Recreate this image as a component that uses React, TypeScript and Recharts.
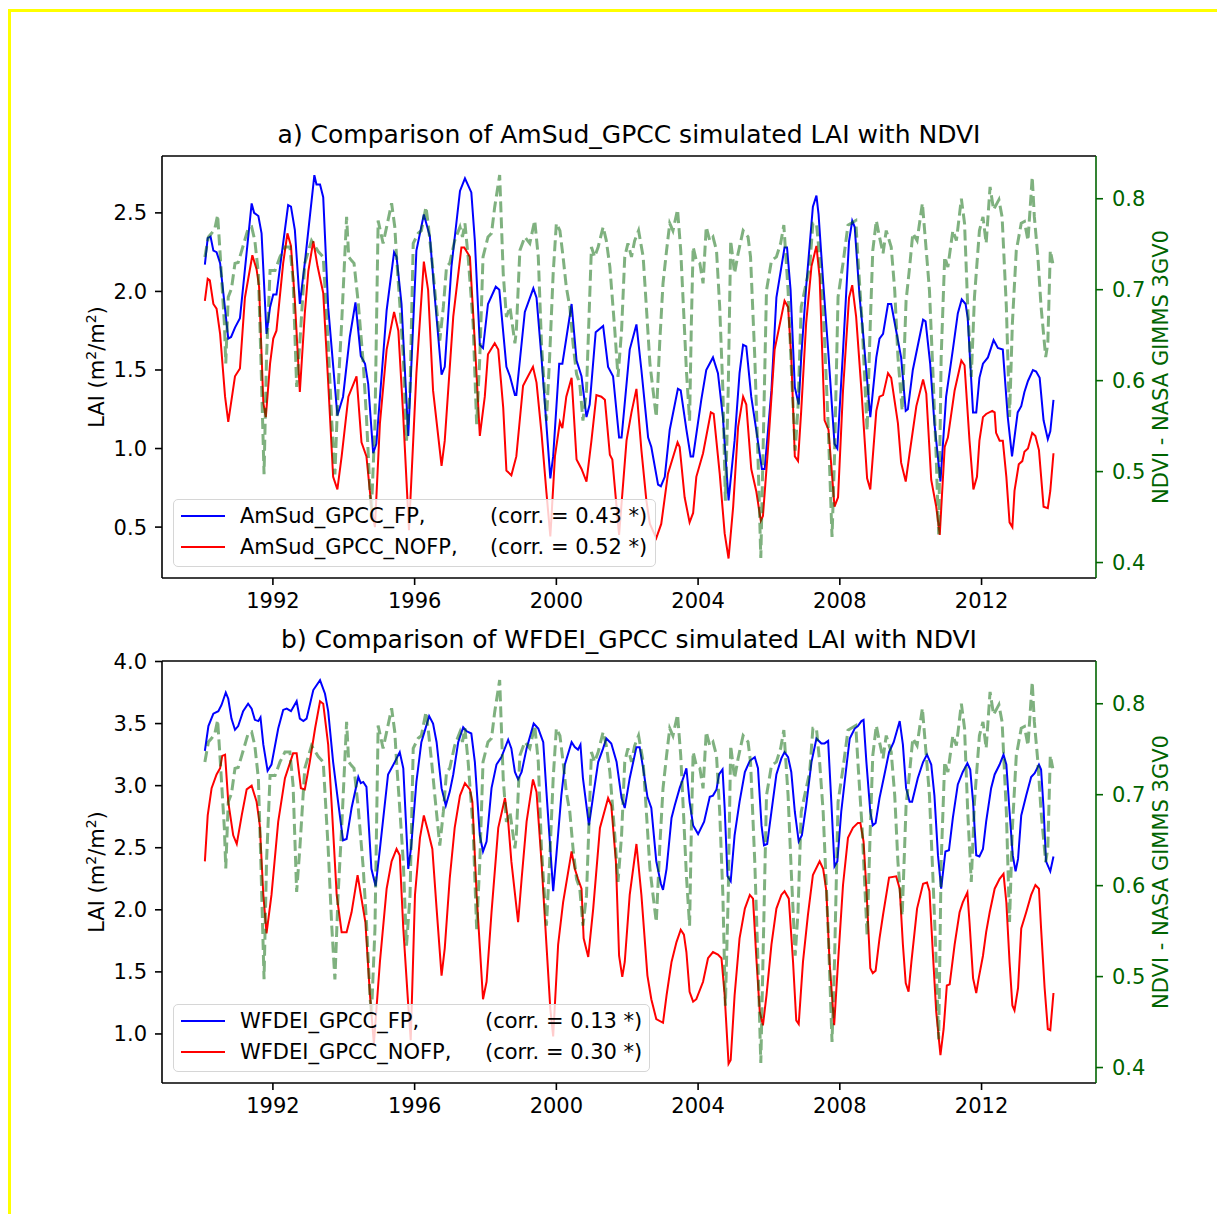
import React from "react";
import { LineChart, Line, XAxis, YAxis, ReferenceLine } from "recharts";

type Pt = [number, number];

const yearTicks = [1992, 1996, 2000, 2004, 2008, 2012];
const laiTicksA = [0.5, 1.0, 1.5, 2.0, 2.5];
const laiTicksB = [1.0, 1.5, 2.0, 2.5, 3.0, 3.5, 4.0];
const ndviTicks = [0.4, 0.5, 0.6, 0.7, 0.8];

// [decimal year, LAI]
const amsudFP: Pt[] = [
  [1990.08, 2.17], [1990.16, 2.34], [1990.24, 2.35], [1990.32, 2.26], [1990.41, 2.25], [1990.51, 2.18],
  [1990.74, 1.7], [1990.82, 1.71], [1990.93, 1.77], [1991.07, 1.83], [1991.4, 2.56], [1991.47, 2.5],
  [1991.59, 2.48], [1991.68, 2.37], [1991.82, 1.73], [1991.92, 1.9], [1992.01, 1.98], [1992.1, 1.98],
  [1992.43, 2.55], [1992.51, 2.54], [1992.62, 2.39], [1992.76, 1.92], [1992.9, 2.18], [1993.17, 2.74],
  [1993.23, 2.68], [1993.33, 2.68], [1993.42, 2.6], [1993.56, 1.9], [1993.82, 1.21], [1993.98, 1.33],
  [1994.17, 1.71], [1994.33, 1.93], [1994.48, 1.59], [1994.6, 1.54], [1994.69, 1.41], [1994.83, 0.97],
  [1994.92, 1.03], [1995.21, 1.88], [1995.42, 2.25], [1995.49, 2.22], [1995.63, 1.92], [1995.82, 1.08],
  [1996.05, 2.26], [1996.26, 2.49], [1996.43, 2.35], [1996.57, 1.96], [1996.76, 1.47], [1996.85, 1.52],
  [1997.04, 2.16], [1997.28, 2.64], [1997.42, 2.72], [1997.6, 2.63], [1997.7, 2.32], [1997.84, 1.66],
  [1997.93, 1.64], [1998.07, 1.92], [1998.29, 2.03], [1998.39, 2.01], [1998.59, 1.52], [1998.69, 1.46],
  [1998.83, 1.34], [1998.87, 1.34], [1999.11, 1.87], [1999.35, 2.02], [1999.44, 1.96], [1999.58, 1.58],
  [1999.83, 0.81], [1999.91, 0.95], [2000.08, 1.54], [2000.17, 1.54], [2000.43, 1.92], [2000.57, 1.56],
  [2000.71, 1.46], [2000.85, 1.2], [2000.94, 1.28], [2001.11, 1.74], [2001.32, 1.78], [2001.46, 1.52],
  [2001.6, 1.46], [2001.77, 1.07], [2001.84, 1.07], [2002.07, 1.63], [2002.26, 1.79], [2002.4, 1.5],
  [2002.59, 1.07], [2002.68, 1.01], [2002.87, 0.77], [2002.95, 0.76], [2003.06, 0.82], [2003.2, 1.12],
  [2003.43, 1.38], [2003.51, 1.37], [2003.67, 1.12], [2003.79, 0.95], [2003.86, 0.95], [2004.09, 1.31],
  [2004.23, 1.5], [2004.42, 1.58], [2004.56, 1.48], [2004.7, 1.2], [2004.86, 0.67], [2005.03, 1.05],
  [2005.17, 1.48], [2005.27, 1.66], [2005.36, 1.65], [2005.5, 1.33], [2005.64, 1.12], [2005.8, 0.87],
  [2005.88, 0.87], [2006.07, 1.37], [2006.21, 1.96], [2006.44, 2.28], [2006.51, 2.28], [2006.61, 2.01],
  [2006.73, 1.39], [2006.84, 1.28], [2006.91, 1.58], [2007.05, 2.03], [2007.24, 2.54], [2007.34, 2.61],
  [2007.4, 2.49], [2007.53, 2.06], [2007.67, 1.63], [2007.85, 1.03], [2007.93, 1.0], [2008.09, 1.62],
  [2008.26, 2.32], [2008.35, 2.45], [2008.42, 2.41], [2008.56, 1.96], [2008.65, 1.75], [2008.86, 1.2],
  [2009.03, 1.58], [2009.12, 1.7], [2009.22, 1.73], [2009.36, 1.92], [2009.45, 1.92], [2009.59, 1.75],
  [2009.73, 1.58], [2009.86, 1.24], [2009.92, 1.25], [2010.06, 1.5], [2010.35, 1.82], [2010.42, 1.81],
  [2010.55, 1.54], [2010.67, 1.16], [2010.84, 0.79], [2011.0, 1.33], [2011.19, 1.63], [2011.33, 1.86],
  [2011.44, 1.95], [2011.55, 1.92], [2011.61, 1.83], [2011.76, 1.23], [2011.85, 1.23], [2011.94, 1.45],
  [2012.04, 1.54], [2012.18, 1.58], [2012.34, 1.69], [2012.46, 1.64], [2012.6, 1.63], [2012.74, 1.2],
  [2012.86, 0.95], [2013.02, 1.23], [2013.12, 1.27], [2013.21, 1.36], [2013.31, 1.43], [2013.45, 1.5],
  [2013.54, 1.49], [2013.64, 1.45], [2013.75, 1.18], [2013.87, 1.06], [2013.94, 1.11], [2014.03, 1.31],
];

const amsudNOFP: Pt[] = [
  [1990.08, 1.94], [1990.16, 2.08], [1990.22, 2.07], [1990.32, 1.92], [1990.41, 1.89], [1990.51, 1.73],
  [1990.65, 1.33], [1990.74, 1.17], [1990.93, 1.46], [1991.07, 1.51], [1991.21, 1.96], [1991.42, 2.23],
  [1991.54, 2.14], [1991.61, 2.03], [1991.73, 1.29], [1991.8, 1.2], [1991.92, 1.54], [1992.01, 1.7],
  [1992.1, 1.75], [1992.29, 2.18], [1992.41, 2.37], [1992.51, 2.29], [1992.62, 1.94], [1992.76, 1.36],
  [1992.9, 1.86], [1993.0, 2.13], [1993.14, 2.32], [1993.26, 2.16], [1993.42, 1.99], [1993.56, 1.42],
  [1993.7, 0.82], [1993.82, 0.74], [1993.94, 0.95], [1994.13, 1.33], [1994.36, 1.46], [1994.5, 1.04],
  [1994.64, 0.95], [1994.78, 0.63], [1994.88, 0.5], [1995.02, 1.16], [1995.21, 1.63], [1995.42, 1.87],
  [1995.54, 1.75], [1995.68, 1.2], [1995.84, 0.48], [1996.05, 1.48], [1996.26, 2.19], [1996.38, 2.01],
  [1996.52, 1.37], [1996.76, 0.89], [1996.85, 1.05], [1997.09, 1.84], [1997.32, 2.28], [1997.4, 2.28],
  [1997.56, 2.22], [1997.7, 1.67], [1997.84, 1.08], [1997.98, 1.33], [1998.07, 1.6], [1998.26, 1.67],
  [1998.36, 1.63], [1998.5, 1.26], [1998.59, 0.86], [1998.73, 0.83], [1998.87, 0.95], [1999.06, 1.4],
  [1999.2, 1.46], [1999.34, 1.52], [1999.44, 1.42], [1999.58, 1.1], [1999.72, 0.72], [1999.83, 0.44],
  [1999.96, 0.95], [2000.1, 1.17], [2000.17, 1.13], [2000.28, 1.33], [2000.43, 1.45], [2000.57, 0.93],
  [2000.71, 0.87], [2000.85, 0.79], [2000.99, 1.05], [2001.13, 1.34], [2001.27, 1.33], [2001.37, 1.31],
  [2001.51, 0.96], [2001.58, 0.93], [2001.77, 0.45], [2001.98, 1.05], [2002.12, 1.23], [2002.26, 1.38],
  [2002.4, 0.99], [2002.54, 0.67], [2002.64, 0.52], [2002.82, 0.43], [2002.96, 0.52], [2003.15, 0.84],
  [2003.42, 1.04], [2003.48, 1.01], [2003.62, 0.69], [2003.76, 0.53], [2003.86, 0.59], [2003.95, 0.82],
  [2004.14, 0.97], [2004.36, 1.23], [2004.44, 1.22], [2004.61, 0.84], [2004.75, 0.46], [2004.86, 0.3],
  [2004.99, 0.63], [2005.13, 1.14], [2005.27, 1.33], [2005.36, 1.28], [2005.5, 0.87], [2005.64, 0.73],
  [2005.77, 0.54], [2005.83, 0.57], [2005.97, 0.99], [2006.16, 1.63], [2006.44, 1.94], [2006.54, 1.9],
  [2006.63, 1.58], [2006.73, 0.95], [2006.82, 0.92], [2006.91, 1.24], [2007.05, 1.8], [2007.2, 2.16],
  [2007.34, 2.29], [2007.43, 2.09], [2007.57, 1.18], [2007.68, 1.12], [2007.85, 0.63], [2007.95, 0.69],
  [2008.09, 1.37], [2008.26, 1.96], [2008.35, 2.04], [2008.46, 1.84], [2008.61, 1.37], [2008.77, 0.81],
  [2008.86, 0.74], [2009.03, 1.24], [2009.12, 1.33], [2009.22, 1.34], [2009.36, 1.48], [2009.45, 1.45],
  [2009.64, 1.16], [2009.73, 0.91], [2009.86, 0.79], [2009.97, 0.97], [2010.16, 1.27], [2010.35, 1.44],
  [2010.44, 1.35], [2010.58, 0.8], [2010.72, 0.63], [2010.82, 0.45], [2010.96, 1.01], [2011.05, 1.07],
  [2011.24, 1.37], [2011.43, 1.56], [2011.52, 1.53], [2011.66, 1.05], [2011.77, 0.74], [2011.87, 0.82],
  [2011.94, 1.05], [2012.04, 1.2], [2012.13, 1.22], [2012.3, 1.24], [2012.37, 1.23], [2012.41, 1.1],
  [2012.51, 1.05], [2012.6, 1.05], [2012.7, 0.82], [2012.79, 0.53], [2012.87, 0.5], [2012.93, 0.73],
  [2013.05, 0.9], [2013.15, 0.92], [2013.21, 0.98], [2013.31, 1.0], [2013.43, 1.1], [2013.52, 1.08],
  [2013.62, 0.99], [2013.75, 0.63], [2013.87, 0.62], [2013.94, 0.73], [2014.03, 0.97],
];

const wfdeiFP: Pt[] = [
  [1990.08, 3.28], [1990.18, 3.48], [1990.32, 3.58], [1990.46, 3.6], [1990.55, 3.65], [1990.67, 3.75],
  [1990.74, 3.7], [1990.83, 3.54], [1990.93, 3.45], [1991.02, 3.48], [1991.16, 3.6], [1991.3, 3.66],
  [1991.4, 3.62], [1991.49, 3.53], [1991.59, 3.52], [1991.65, 3.55], [1991.73, 3.33], [1991.85, 3.12],
  [1991.96, 3.17], [1992.15, 3.46], [1992.29, 3.61], [1992.39, 3.62], [1992.51, 3.6], [1992.67, 3.68],
  [1992.76, 3.54], [1992.86, 3.52], [1992.95, 3.54], [1993.14, 3.77], [1993.33, 3.85], [1993.47, 3.74],
  [1993.56, 3.6], [1993.7, 3.19], [1993.84, 2.87], [1993.98, 2.56], [1994.08, 2.57], [1994.22, 2.82],
  [1994.41, 3.07], [1994.48, 3.02], [1994.55, 3.03], [1994.64, 2.99], [1994.78, 2.33], [1994.9, 2.19],
  [1995.02, 2.49], [1995.25, 3.09], [1995.44, 3.19], [1995.58, 3.27], [1995.68, 3.14], [1995.82, 2.33],
  [1995.9, 2.5], [1996.05, 3.03], [1996.19, 3.35], [1996.41, 3.56], [1996.52, 3.5], [1996.62, 3.35],
  [1996.76, 2.98], [1996.88, 2.84], [1996.99, 2.95], [1997.09, 3.09], [1997.23, 3.35], [1997.37, 3.47],
  [1997.46, 3.44], [1997.6, 3.42], [1997.7, 3.19], [1997.84, 2.6], [1997.93, 2.47], [1998.03, 2.55],
  [1998.17, 2.98], [1998.31, 3.17], [1998.45, 3.23], [1998.64, 3.37], [1998.73, 3.3], [1998.83, 3.11],
  [1998.92, 3.05], [1999.02, 3.11], [1999.16, 3.3], [1999.36, 3.5], [1999.49, 3.46], [1999.63, 3.35],
  [1999.72, 2.95], [1999.91, 2.15], [2000.0, 2.44], [2000.14, 2.92], [2000.24, 3.17], [2000.43, 3.35],
  [2000.52, 3.31], [2000.61, 3.29], [2000.68, 3.33], [2000.75, 3.06], [2000.92, 2.68], [2001.04, 2.92],
  [2001.18, 3.19], [2001.32, 3.3], [2001.41, 3.38], [2001.55, 3.34], [2001.7, 3.19], [2001.84, 2.9],
  [2001.93, 2.82], [2002.07, 3.06], [2002.26, 3.31], [2002.35, 3.31], [2002.45, 3.14], [2002.57, 2.91],
  [2002.68, 2.82], [2002.82, 2.39], [2002.95, 2.21], [2003.01, 2.16], [2003.11, 2.33], [2003.25, 2.74],
  [2003.34, 2.84], [2003.48, 2.98], [2003.58, 3.06], [2003.67, 3.14], [2003.76, 2.87], [2003.86, 2.68],
  [2004.0, 2.61], [2004.17, 2.71], [2004.33, 2.91], [2004.42, 2.92], [2004.52, 2.97], [2004.59, 3.09],
  [2004.69, 3.13], [2004.75, 2.82], [2004.83, 2.27], [2004.92, 2.23], [2005.03, 2.6], [2005.17, 2.87],
  [2005.32, 3.11], [2005.46, 3.2], [2005.6, 3.23], [2005.69, 3.14], [2005.79, 2.68], [2005.86, 2.52],
  [2005.95, 2.53], [2006.07, 2.79], [2006.21, 3.09], [2006.35, 3.22], [2006.44, 3.27], [2006.54, 3.23],
  [2006.63, 3.11], [2006.73, 2.79], [2006.84, 2.55], [2006.93, 2.6], [2007.05, 2.84], [2007.2, 3.19],
  [2007.34, 3.38], [2007.48, 3.34], [2007.57, 3.34], [2007.67, 3.36], [2007.76, 2.87], [2007.85, 2.35],
  [2007.93, 2.39], [2008.04, 2.79], [2008.18, 3.14], [2008.28, 3.38], [2008.42, 3.46], [2008.51, 3.48],
  [2008.61, 3.52], [2008.67, 3.53], [2008.75, 3.19], [2008.86, 2.79], [2008.93, 2.68], [2009.01, 2.7],
  [2009.12, 2.9], [2009.26, 3.09], [2009.39, 3.27], [2009.52, 3.35], [2009.61, 3.44], [2009.69, 3.52],
  [2009.78, 3.33], [2009.87, 2.98], [2009.97, 2.87], [2010.04, 2.87], [2010.2, 3.06], [2010.35, 3.19],
  [2010.46, 3.25], [2010.58, 3.17], [2010.67, 2.92], [2010.77, 2.44], [2010.86, 2.17], [2010.98, 2.47],
  [2011.08, 2.48], [2011.19, 2.74], [2011.33, 3.01], [2011.47, 3.11], [2011.6, 3.18], [2011.68, 3.13],
  [2011.76, 2.87], [2011.85, 2.44], [2011.94, 2.43], [2012.04, 2.49], [2012.13, 2.71], [2012.27, 2.98],
  [2012.37, 3.09], [2012.51, 3.17], [2012.62, 3.25], [2012.7, 3.17], [2012.79, 2.79], [2012.88, 2.44],
  [2012.96, 2.31], [2013.03, 2.41], [2013.12, 2.76], [2013.26, 2.92], [2013.4, 3.07], [2013.5, 3.1],
  [2013.62, 3.17], [2013.68, 3.13], [2013.75, 2.82], [2013.82, 2.39], [2013.94, 2.31], [2014.03, 2.43],
];

const wfdeiNOFP: Pt[] = [
  [1990.08, 2.39], [1990.16, 2.76], [1990.27, 2.98], [1990.41, 3.09], [1990.51, 3.14], [1990.57, 3.24],
  [1990.65, 3.25], [1990.74, 2.87], [1990.88, 2.6], [1990.98, 2.53], [1991.12, 2.76], [1991.26, 2.97],
  [1991.4, 3.0], [1991.54, 2.87], [1991.63, 2.68], [1991.73, 2.12], [1991.82, 1.81], [1991.96, 2.12],
  [1992.15, 2.71], [1992.34, 3.06], [1992.57, 3.26], [1992.67, 3.26], [1992.79, 2.98], [1992.9, 2.97],
  [1993.04, 3.19], [1993.19, 3.46], [1993.33, 3.68], [1993.42, 3.66], [1993.56, 3.33], [1993.67, 2.79],
  [1993.8, 2.12], [1993.94, 1.82], [1994.08, 1.82], [1994.22, 1.98], [1994.39, 2.28], [1994.5, 2.09],
  [1994.61, 1.9], [1994.74, 1.31], [1994.85, 0.92], [1995.02, 1.58], [1995.21, 2.17], [1995.35, 2.39],
  [1995.49, 2.49], [1995.58, 2.44], [1995.68, 1.85], [1995.82, 1.23], [1995.89, 0.95], [1996.01, 2.12],
  [1996.15, 2.58], [1996.26, 2.76], [1996.38, 2.63], [1996.5, 2.49], [1996.62, 2.01], [1996.76, 1.47],
  [1996.85, 1.69], [1996.99, 2.25], [1997.13, 2.66], [1997.28, 2.92], [1997.42, 3.02], [1997.56, 2.97],
  [1997.63, 2.87], [1997.75, 2.12], [1997.93, 1.28], [1998.03, 1.42], [1998.17, 1.98], [1998.36, 2.66],
  [1998.55, 2.9], [1998.64, 2.71], [1998.73, 2.39], [1998.92, 1.9], [1999.02, 2.25], [1999.16, 2.71],
  [1999.34, 3.05], [1999.44, 2.95], [1999.58, 2.39], [1999.72, 1.72], [1999.83, 1.2], [1999.91, 0.98],
  [2000.05, 1.72], [2000.19, 2.06], [2000.43, 2.47], [2000.52, 2.33], [2000.61, 2.25], [2000.71, 2.17],
  [2000.77, 1.77], [2000.9, 1.62], [2001.04, 2.01], [2001.23, 2.66], [2001.46, 2.9], [2001.55, 2.84],
  [2001.68, 2.39], [2001.77, 1.63], [2001.86, 1.46], [2001.93, 1.58], [2002.07, 2.12], [2002.26, 2.53],
  [2002.4, 2.12], [2002.57, 1.47], [2002.68, 1.28], [2002.82, 1.12], [2003.01, 1.09], [2003.11, 1.31],
  [2003.25, 1.58], [2003.39, 1.74], [2003.51, 1.84], [2003.6, 1.8], [2003.67, 1.66], [2003.76, 1.34],
  [2003.86, 1.26], [2003.95, 1.28], [2004.14, 1.42], [2004.28, 1.61], [2004.42, 1.66], [2004.56, 1.64],
  [2004.66, 1.61], [2004.75, 1.31], [2004.86, 0.76], [2004.92, 0.79], [2005.03, 1.31], [2005.17, 1.77],
  [2005.32, 2.01], [2005.46, 2.12], [2005.55, 2.09], [2005.64, 1.63], [2005.74, 1.18], [2005.83, 1.07],
  [2005.93, 1.31], [2006.07, 1.72], [2006.21, 2.01], [2006.35, 2.12], [2006.44, 2.15], [2006.56, 2.09],
  [2006.68, 1.58], [2006.77, 1.11], [2006.84, 1.08], [2006.96, 1.58], [2007.1, 1.96], [2007.24, 2.28],
  [2007.43, 2.39], [2007.53, 2.33], [2007.62, 2.15], [2007.71, 1.58], [2007.84, 1.07], [2007.95, 1.58],
  [2008.09, 2.2], [2008.23, 2.58], [2008.37, 2.66], [2008.51, 2.7], [2008.58, 2.7], [2008.67, 2.55],
  [2008.75, 2.17], [2008.86, 1.53], [2008.93, 1.49], [2009.01, 1.51], [2009.12, 1.77], [2009.22, 1.96],
  [2009.39, 2.26], [2009.59, 2.27], [2009.69, 2.17], [2009.78, 1.72], [2009.86, 1.41], [2009.94, 1.34],
  [2010.02, 1.58], [2010.18, 2.01], [2010.35, 2.21], [2010.46, 2.22], [2010.53, 2.15], [2010.63, 1.63],
  [2010.72, 1.18], [2010.84, 0.83], [2010.93, 1.04], [2011.02, 1.39], [2011.1, 1.4], [2011.24, 1.72],
  [2011.38, 1.98], [2011.47, 2.06], [2011.6, 2.14], [2011.66, 1.9], [2011.76, 1.45], [2011.85, 1.33],
  [2011.92, 1.45], [2012.04, 1.63], [2012.13, 1.82], [2012.23, 1.98], [2012.37, 2.17], [2012.51, 2.25],
  [2012.62, 2.29], [2012.7, 2.06], [2012.79, 1.58], [2012.87, 1.23], [2012.93, 1.19], [2013.03, 1.37],
  [2013.12, 1.85], [2013.26, 1.98], [2013.4, 2.12], [2013.52, 2.2], [2013.62, 2.17], [2013.68, 1.85],
  [2013.78, 1.37], [2013.87, 1.04], [2013.94, 1.03], [2014.03, 1.33],
];

// [decimal year, NDVI] - same observed series in both panels
const ndviGimms: Pt[] = [
  [1990.08, 0.736], [1990.18, 0.758], [1990.27, 0.762], [1990.36, 0.767], [1990.44, 0.782], [1990.51, 0.74],
  [1990.63, 0.663], [1990.67, 0.619], [1990.74, 0.692], [1990.83, 0.701], [1990.93, 0.729], [1991.02, 0.73],
  [1991.12, 0.743], [1991.3, 0.767], [1991.4, 0.769], [1991.49, 0.754], [1991.59, 0.718], [1991.66, 0.626],
  [1991.75, 0.497], [1991.82, 0.626], [1991.92, 0.721], [1992.06, 0.721], [1992.2, 0.736], [1992.34, 0.747],
  [1992.48, 0.747], [1992.57, 0.71], [1992.67, 0.593], [1992.76, 0.641], [1992.9, 0.729], [1993.09, 0.754],
  [1993.28, 0.742], [1993.42, 0.736], [1993.56, 0.641], [1993.66, 0.556], [1993.75, 0.497], [1993.84, 0.59],
  [1993.94, 0.663], [1994.08, 0.78], [1994.14, 0.736], [1994.22, 0.732], [1994.29, 0.729], [1994.41, 0.685],
  [1994.55, 0.619], [1994.64, 0.56], [1994.74, 0.479], [1994.78, 0.457], [1994.88, 0.552], [1994.97, 0.776],
  [1995.11, 0.751], [1995.21, 0.769], [1995.35, 0.795], [1995.44, 0.769], [1995.49, 0.736], [1995.58, 0.685],
  [1995.68, 0.626], [1995.77, 0.534], [1995.87, 0.589], [1995.96, 0.751], [1996.1, 0.762], [1996.19, 0.765],
  [1996.32, 0.791], [1996.38, 0.773], [1996.48, 0.736], [1996.57, 0.699], [1996.71, 0.644], [1996.81, 0.681],
  [1996.9, 0.725], [1996.99, 0.729], [1997.13, 0.754], [1997.28, 0.769], [1997.35, 0.758], [1997.42, 0.773],
  [1997.51, 0.736], [1997.65, 0.663], [1997.75, 0.552], [1997.84, 0.626], [1997.93, 0.736], [1998.07, 0.758],
  [1998.17, 0.762], [1998.26, 0.791], [1998.4, 0.826], [1998.5, 0.718], [1998.59, 0.67], [1998.69, 0.681],
  [1998.83, 0.641], [1998.87, 0.655], [1998.97, 0.743], [1999.11, 0.758], [1999.25, 0.751], [1999.39, 0.776],
  [1999.49, 0.736], [1999.58, 0.641], [1999.72, 0.556], [1999.81, 0.626], [1999.91, 0.718], [2000.0, 0.773],
  [2000.1, 0.765], [2000.19, 0.736], [2000.28, 0.703], [2000.38, 0.681], [2000.47, 0.641], [2000.57, 0.607],
  [2000.66, 0.597], [2000.75, 0.556], [2000.85, 0.589], [2000.99, 0.747], [2001.08, 0.736], [2001.18, 0.747],
  [2001.32, 0.769], [2001.41, 0.754], [2001.51, 0.725], [2001.65, 0.655], [2001.74, 0.604], [2001.84, 0.655],
  [2001.93, 0.736], [2002.02, 0.751], [2002.12, 0.736], [2002.21, 0.754], [2002.32, 0.765], [2002.45, 0.736],
  [2002.54, 0.681], [2002.64, 0.619], [2002.73, 0.589], [2002.82, 0.56], [2002.92, 0.644], [2003.01, 0.707],
  [2003.11, 0.743], [2003.2, 0.773], [2003.29, 0.765], [2003.42, 0.788], [2003.51, 0.743], [2003.6, 0.67],
  [2003.67, 0.611], [2003.76, 0.556], [2003.81, 0.663], [2003.86, 0.747], [2003.95, 0.732], [2004.05, 0.729],
  [2004.14, 0.707], [2004.23, 0.769], [2004.33, 0.754], [2004.42, 0.758], [2004.52, 0.743], [2004.61, 0.681],
  [2004.7, 0.589], [2004.77, 0.468], [2004.85, 0.589], [2004.92, 0.754], [2005.03, 0.718], [2005.13, 0.74],
  [2005.27, 0.765], [2005.41, 0.758], [2005.48, 0.736], [2005.6, 0.626], [2005.69, 0.516], [2005.77, 0.405],
  [2005.83, 0.516], [2005.93, 0.699], [2006.07, 0.732], [2006.21, 0.736], [2006.33, 0.751], [2006.42, 0.771],
  [2006.54, 0.699], [2006.63, 0.615], [2006.74, 0.523], [2006.82, 0.571], [2006.91, 0.681], [2007.05, 0.707],
  [2007.15, 0.725], [2007.24, 0.773], [2007.34, 0.773], [2007.43, 0.736], [2007.53, 0.681], [2007.67, 0.552],
  [2007.78, 0.428], [2007.85, 0.516], [2007.95, 0.692], [2008.09, 0.729], [2008.23, 0.771], [2008.32, 0.773],
  [2008.45, 0.776], [2008.51, 0.736], [2008.63, 0.663], [2008.77, 0.545], [2008.86, 0.663], [2008.93, 0.743],
  [2009.03, 0.776], [2009.12, 0.758], [2009.22, 0.74], [2009.31, 0.765], [2009.45, 0.747], [2009.55, 0.699],
  [2009.64, 0.626], [2009.76, 0.567], [2009.87, 0.688], [2009.97, 0.725], [2010.06, 0.762], [2010.18, 0.754],
  [2010.33, 0.795], [2010.44, 0.743], [2010.53, 0.699], [2010.63, 0.607], [2010.72, 0.516], [2010.79, 0.431],
  [2010.86, 0.626], [2010.96, 0.736], [2011.05, 0.725], [2011.19, 0.765], [2011.29, 0.754], [2011.43, 0.8],
  [2011.52, 0.773], [2011.61, 0.681], [2011.71, 0.604], [2011.8, 0.692], [2011.94, 0.765], [2012.04, 0.78],
  [2012.13, 0.751], [2012.24, 0.813], [2012.34, 0.788], [2012.49, 0.799], [2012.58, 0.78], [2012.7, 0.681],
  [2012.79, 0.56], [2012.87, 0.663], [2012.98, 0.743], [2013.12, 0.773], [2013.21, 0.775], [2013.31, 0.754],
  [2013.43, 0.824], [2013.49, 0.78], [2013.59, 0.736], [2013.68, 0.681], [2013.81, 0.626], [2013.87, 0.641],
  [2013.94, 0.743], [2014.01, 0.729],
];

const toRows = (pts: Pt[]) => pts.map(([t, v]) => ({ t, v }));

const FONT = "'DejaVu Sans', sans-serif";
const GREEN = "#006400";
const xDomain: [number, number] = [1988.87, 2015.23];
const ndviDomain: [number, number] = [0.383, 0.847];

interface PanelProps {
  top: number;
  title: string;
  fp: Pt[];
  nofp: Pt[];
  fpName: string;
  nofpName: string;
  fpCorr: string;
  nofpCorr: string;
  corrX: number;
  legendW: number;
  laiTicks: number[];
  laiDomain: [number, number];
}

function Panel(p: PanelProps) {
  const plotTop = 156;
  const plotH = 422;
  const axisTick = { fontSize: 21, fill: "#000", fontFamily: FONT };
  const line = { stroke: "#000", strokeWidth: 1.6 };
  return (
    <div style={{ position: "absolute", left: 0, top: p.top, width: 1217, height: 640 }}>
      <div style={{ position: "absolute", left: 162, width: 934, top: plotTop - 36, height: 30, lineHeight: "30px", textAlign: "center", fontSize: 25 }}>
        {p.title}
      </div>
      <div style={{ position: "absolute", left: 0, top: 0 }}>
        <LineChart width={1217} height={640} margin={{ top: plotTop, right: 0, bottom: 640 - plotTop - plotH - 40, left: 0 }}>
          <XAxis
            type="number"
            dataKey="t"
            domain={xDomain}
            allowDataOverflow
            ticks={yearTicks}
            tick={axisTick}
            axisLine={line}
            tickLine={line}
            tickSize={7}
            tickMargin={8}
            height={40}
            interval={0}
          />
          <YAxis
            yAxisId="lai"
            type="number"
            domain={p.laiDomain}
            allowDataOverflow
            ticks={p.laiTicks}
            tickFormatter={(v: number) => v.toFixed(1)}
            tick={axisTick}
            axisLine={line}
            tickLine={line}
            tickSize={7}
            tickMargin={8}
            width={162}
            interval={0}
          />
          <YAxis
            yAxisId="ndvi"
            orientation="right"
            type="number"
            domain={ndviDomain}
            allowDataOverflow
            ticks={ndviTicks}
            tickFormatter={(v: number) => v.toFixed(1)}
            tick={{ ...axisTick, fill: GREEN }}
            axisLine={{ stroke: GREEN, strokeWidth: 1.6 }}
            tickLine={{ stroke: GREEN, strokeWidth: 1.6 }}
            tickSize={7}
            tickMargin={9}
            width={121}
            interval={0}
          />
          <Line yAxisId="lai" data={toRows(p.fp)} dataKey="v" type="linear" stroke="#0000ff" strokeWidth={2} dot={false} activeDot={false} isAnimationActive={false} />
          <Line yAxisId="lai" data={toRows(p.nofp)} dataKey="v" type="linear" stroke="#ff0000" strokeWidth={2} dot={false} activeDot={false} isAnimationActive={false} />
          <Line yAxisId="ndvi" data={toRows(ndviGimms)} dataKey="v" type="linear" stroke={GREEN} strokeOpacity={0.5} strokeWidth={3} strokeDasharray="11 5" dot={false} activeDot={false} isAnimationActive={false} />
          {/* top spine */}
          <ReferenceLine yAxisId="lai" y={p.laiDomain[1]} stroke="#000" strokeWidth={1.6} ifOverflow="extendDomain" />
        </LineChart>
      </div>
      {/* left axis label */}
      <div style={{ position: "absolute", left: 91 - 150, top: plotTop + plotH / 2 - 15, width: 300, height: 30, lineHeight: "30px", textAlign: "center", fontSize: 21, transform: "rotate(-90deg)" }}>
        LAI (m<sup style={{ fontSize: 14 }}>2</sup>/m<sup style={{ fontSize: 14 }}>2</sup>)
      </div>
      {/* right axis label */}
      <div style={{ position: "absolute", left: 1161 - 200, top: plotTop + plotH / 2 - 15, width: 400, height: 30, lineHeight: "30px", textAlign: "center", fontSize: 21, color: GREEN, transform: "rotate(-90deg)" }}>
        NDVI - NASA GIMMS 3GV0
      </div>
      {/* legend */}
      <div style={{ position: "absolute", left: 173, top: plotTop + 343, width: p.legendW, height: 68, border: "1.5px solid #d6d6d6", borderRadius: 5, background: "rgba(255,255,255,0.8)", boxSizing: "border-box", fontSize: 21 }}>
        {[
          { name: p.fpName, corr: p.fpCorr, color: "#0000ff", y: 16 },
          { name: p.nofpName, corr: p.nofpCorr, color: "#ff0000", y: 47 },
        ].map((r) => (
          <React.Fragment key={r.name}>
            <div style={{ position: "absolute", left: 7, top: r.y - 1, width: 44, height: 2, background: r.color }} />
            <div style={{ position: "absolute", left: 66, top: r.y - 13, lineHeight: "26px", whiteSpace: "nowrap" }}>{r.name}</div>
            <div style={{ position: "absolute", left: p.corrX, top: r.y - 13, lineHeight: "26px", whiteSpace: "nowrap" }}>{r.corr}</div>
          </React.Fragment>
        ))}
      </div>
    </div>
  );
}

export default function App() {
  return (
    <div style={{ position: "absolute", left: 0, top: 0, width: 1217, height: 1214, background: "#fff", fontFamily: FONT, color: "#000", overflow: "hidden" }}>
      <div style={{ position: "absolute", left: 8, top: 9, width: 1209, height: 3, background: "#ffff00" }} />
      <div style={{ position: "absolute", left: 8, top: 9, width: 3, height: 1205, background: "#ffff00" }} />
      <Panel
        top={0}
        title="a) Comparison of AmSud_GPCC simulated LAI with NDVI"
        fp={amsudFP}
        nofp={amsudNOFP}
        fpName="AmSud_GPCC_FP,"
        nofpName="AmSud_GPCC_NOFP,"
        fpCorr="(corr. = 0.43 *)"
        nofpCorr="(corr. = 0.52 *)"
        corrX={316}
        legendW={483}
        laiTicks={laiTicksA}
        laiDomain={[0.176, 2.862]}
      />
      <Panel
        top={505}
        title="b) Comparison of WFDEI_GPCC simulated LAI with NDVI"
        fp={wfdeiFP}
        nofp={wfdeiNOFP}
        fpName="WFDEI_GPCC_FP,"
        nofpName="WFDEI_GPCC_NOFP,"
        fpCorr="(corr. = 0.13 *)"
        nofpCorr="(corr. = 0.30 *)"
        corrX={311}
        legendW={477}
        laiTicks={laiTicksB}
        laiDomain={[0.605, 4.004]}
      />
    </div>
  );
}
